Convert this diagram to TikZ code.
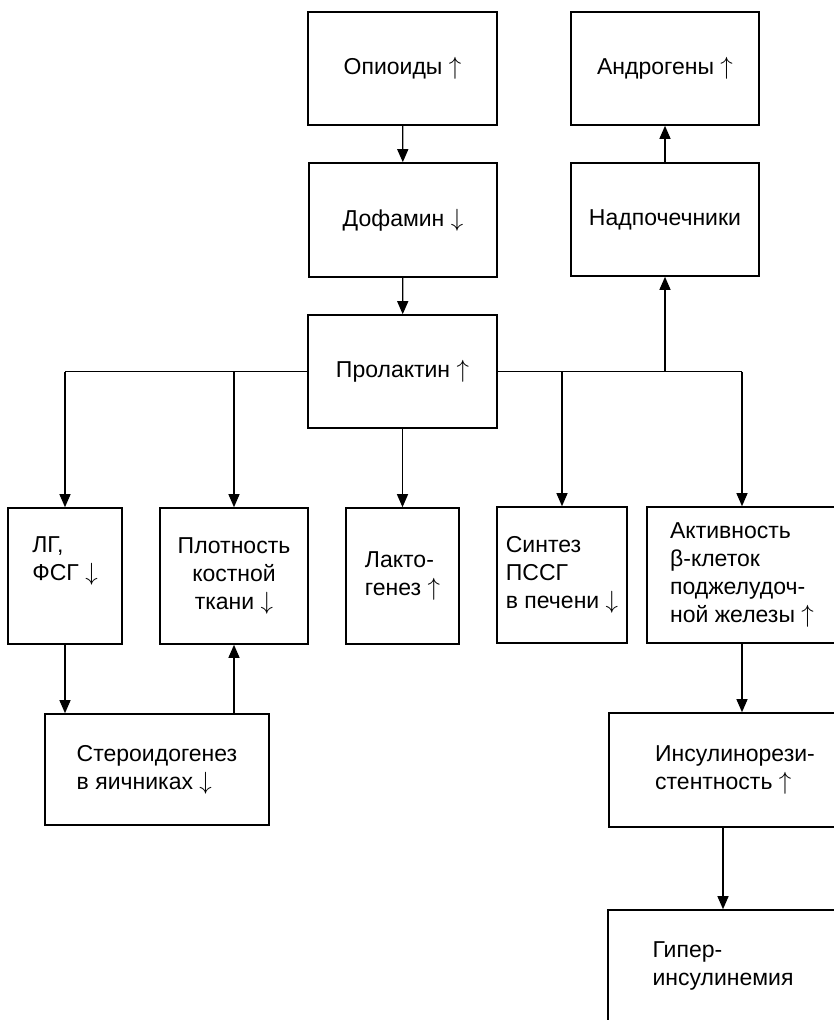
\documentclass[tikz,border=0pt]{standalone}
\usepackage{fontspec}
\setmainfont{Liberation Sans}
\usepackage{tikz}
\usetikzlibrary{positioning,arrows.meta}

\begin{document}
\begin{tikzpicture}[x=1pt,y=-1pt,
          every node/.style={font=\fontsize{23}{28}\selectfont},
          box/.style={rectangle,draw,line width=1.6pt,align=left,inner sep=2pt},
          conn/.style={line width=1.3pt,-{Triangle[length=13pt,width=11pt]}},
          tree/.style={line width=1.2pt},
        ]
        \useasboundingbox (0,0) rectangle (833,1020);
        % top chain
        \node[box,minimum width=189pt,minimum height=113pt] (op) at (402.5,68.5) {Опиоиды $\uparrow$};
        \node[box,minimum width=188pt,minimum height=114pt] (dof) at (403,220) {Дофамин $\downarrow$};
        \node[box,minimum width=189pt,minimum height=113pt] (prl) at (402.5,371.5) {Пролактин $\uparrow$};
        \node[box,minimum width=188pt,minimum height=113pt] (andr) at (665,68.5) {Андрогены $\uparrow$};
        \node[box,minimum width=188pt,minimum height=113pt] (nadp) at (665,219.5) {Надпочечники};
        % second row
        \node[box,minimum width=114pt,minimum height=136pt] (lg) at (65,576) {ЛГ,\\ФСГ $\downarrow$\\[6pt]};
        \node[box,minimum width=148pt,minimum height=136pt,align=center] (plt) at (234,576) {Плотность\\костной\\ткани $\downarrow$};
        \node[box,minimum width=113pt,minimum height=136pt] (lakt) at (402.5,576) {Лакто-\\генез $\uparrow$};
        \node[box,minimum width=130pt,minimum height=136pt,inner sep=0pt] (sint) at (562,575) {Синтез\\ПССГ\\в печени $\downarrow$};
        \node[box,minimum width=190pt,minimum height=136pt] (akt) at (742,575) {Активность\\β-клеток\\поджелудоч-\\ной железы $\uparrow$};
        % lower boxes
        \node[box,minimum width=224pt,minimum height=111pt] (ster) at (157,769.5) {Стероидогенез\\в яичниках $\downarrow$};
        \node[box,minimum width=252pt,minimum height=114pt] (ins) at (735,770) {Инсулинорези-\\стентность $\uparrow$};
        \node[box,minimum width=230pt,minimum height=112pt] (hyp) at (723,966) {Гипер-\\инсулинемия};
        % connectors
        \draw[conn] (op) -- (dof);
        \draw[conn] (dof) -- (prl);
        \draw[conn,line width=1.2pt] (nadp) -- (andr);
        \draw[tree] (prl.west) -- (lg.north |- prl.west);
        \draw[tree] (prl.east) -- (akt.north |- prl.east);
        \draw[conn,line width=1.2pt] (lg.north |- prl.west) -- (lg.north);
        \draw[conn,line width=1.2pt] (plt.north |- prl.west) -- (plt.north);
        \draw[conn,line width=1.2pt] (prl.south) -- (lakt.north);
        \draw[conn,line width=1.2pt] (sint.north |- prl.east) -- (sint.north);
        \draw[conn,line width=1.2pt] (akt.north |- prl.east) -- (akt.north);
        \draw[conn,line width=1.2pt] (nadp.south |- prl.east) -- (nadp.south);
        \draw[conn,line width=1.2pt] (lg.south) -- (lg.south |- ster.north);
        \draw[conn,line width=1.2pt] (plt.south |- ster.north) -- (plt.south);
        \draw[conn,line width=1.2pt] (akt.south) -- (akt.south |- ins.north);
        \draw[conn] (ins.south -| hyp.north) -- (hyp.north);
      \end{tikzpicture}
\end{document}
